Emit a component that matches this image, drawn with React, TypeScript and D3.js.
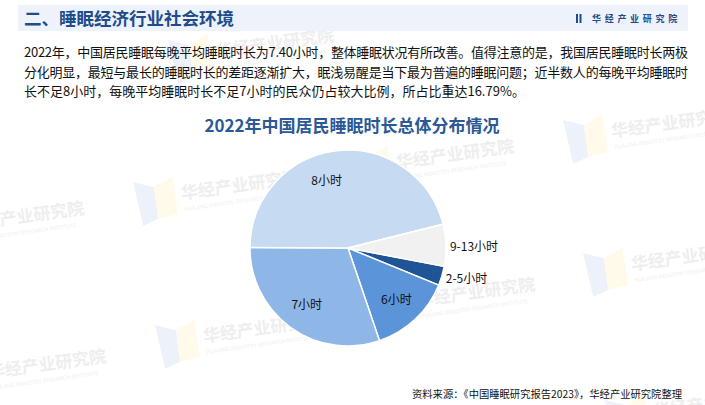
import React from "react";
import * as d3 from "d3";

const categories = ["2-5小时", "6小时", "7小时", "8小时", "9-13小时"];
const shares = [3.19, 13.6, 30.3, 46.0, 6.91];
const sliceColors = ["#1F5596", "#5B94D8", "#8EB6E6", "#C6DAF2", "#F1F1F1"];
const outsideLabels = ["2-5小时", "9-13小时"];

const headerTitle = "二、睡眠经济行业社会环境";
const brand = "华经产业研究院";
const paragraphLines = [
  "2022年，中国居民睡眠每晚平均睡眠时长为7.40小时，整体睡眠状况有所改善。值得注意的是，我国居民睡眠时长两极",
  "分化明显，最短与最长的睡眠时长的差距逐渐扩大，眠浅易醒是当下最为普遍的睡眠问题；近半数人的每晚平均睡眠时",
  "长不足8小时，每晚平均睡眠时长不足7小时的民众仍占较大比例，所占比重达16.79%。",
];
const chartTitle = "2022年中国居民睡眠时长总体分布情况";
const source = "资料来源：《中国睡眠研究报告2023》，华经产业研究院整理";

const W = 705;
const H = 405;
const cx = 348;
const cy = 248;
const R = 98;
const START = (100.8 * Math.PI) / 180;
const labelNudge: Record<string, [number, number]> = { "8小时": [-13, 3] };

const wmTiles: [number, number][] = [
  [-82, 213], [133, 182], [348, 151], [563, 120],
  [-60, 361], [155, 325], [369, 289], [583, 253],
  [168, 40], [605, 400],
];

const FONT = "'Noto Sans CJK SC', 'Noto Sans', sans-serif";

function Watermark({ x, y }: { x: number; y: number }) {
  return (
    <g transform={`translate(${x},${y}) rotate(-8)`}>
      <polygon points="0,0 20,8 20,40 4,45" fill="#EDF2FA" />
      <polygon points="20,8 40,0 40,38 20,40" fill="#FFFAE9" />
      <text x={46} y={24} fontSize={17} fontWeight={700} fill="#EEEEEE" fontFamily={FONT}>
        {brand}
      </text>
      <text x={47} y={36} fontSize={5.5} fill="#EFEFEF" fontFamily={FONT}>
        HUAJING INDUSTRY RESEARCH INSTITUTE
      </text>
    </g>
  );
}

export default function App() {
  const pie = d3
    .pie<number>()
    .sort(null)
    .value((d) => d)
    .startAngle(START)
    .endAngle(START + 2 * Math.PI);
  const arcs = pie(shares);
  const arcGen = d3.arc<d3.PieArcDatum<number>>().innerRadius(0).outerRadius(R);
  const labelArc = d3.arc<d3.PieArcDatum<number>>().innerRadius(R * 0.72).outerRadius(R * 0.72);

  return (
    <svg
      width={W}
      height={H}
      style={{ position: "absolute", left: 0, top: 0, background: "#fff" }}
      fontFamily={FONT}
    >
      <rect width={W} height={H} fill="#fff" />
      {wmTiles.map(([x, y], i) => (
        <Watermark key={i} x={x} y={y} />
      ))}
      {/* header band */}
      <rect x={18} y={5} width={670} height={26} fill="#EEF3FB" />
      <text x={24} y={24.5} fontSize={17.5} fontWeight={700} fill="#1F4C8B">
        {headerTitle}
      </text>
      <rect x={576} y={14} width={2} height={9} fill="#1F4C8B" />
      <rect x={579.5} y={14} width={2} height={9} fill="#1F4C8B" />
      <text x={592} y={22} fontSize={9} fontWeight={700} fill="#1F4C8B" letterSpacing={3.7}>
        {brand}
      </text>

      {/* paragraph */}
      {paragraphLines.map((line, i) => (
        <text
          key={i}
          x={24}
          y={57 + i * 19.5}
          fontSize={13}
          fill="#111"
          {...(i < 2 ? { textLength: 664, lengthAdjust: "spacing" } : {})}
        >
          {line}
        </text>
      ))}

      {/* chart title */}
      <text x={352} y={131.5} textAnchor="middle" fontSize={17} fontWeight={700} fill="#2B5896">
        {chartTitle}
      </text>

      {/* pie */}
      <g transform={`translate(${cx},${cy})`}>
        {arcs.map((a, i) => (
          <path key={i} d={arcGen(a) || ""} fill={sliceColors[i]} stroke="#fff" strokeWidth={1.5} />
        ))}
        {arcs.map((a, i) => {
          const name = categories[i];
          const mid = (a.startAngle + a.endAngle) / 2;
          if (outsideLabels.includes(name)) {
            const rr = R + 4;
            const x = rr * Math.sin(mid);
            const y = -rr * Math.cos(mid);
            return (
              <text key={name} x={x} y={y + 2} dy="0.35em" fontSize={12} fill="#111">
                {name}
              </text>
            );
          }
          const [lx, ly] = labelArc.centroid(a);
          const [nx, ny] = labelNudge[name] || [0, 0];
          return (
            <text key={name} x={lx + nx} y={ly + ny} dy="0.35em" textAnchor="middle" fontSize={12} fill="#111">
              {name}
            </text>
          );
        })}
      </g>

      {/* source */}
      <text x={682} y={398} textAnchor="end" fontSize={10.3} fill="#111">
        {source}
      </text>
    </svg>
  );
}
